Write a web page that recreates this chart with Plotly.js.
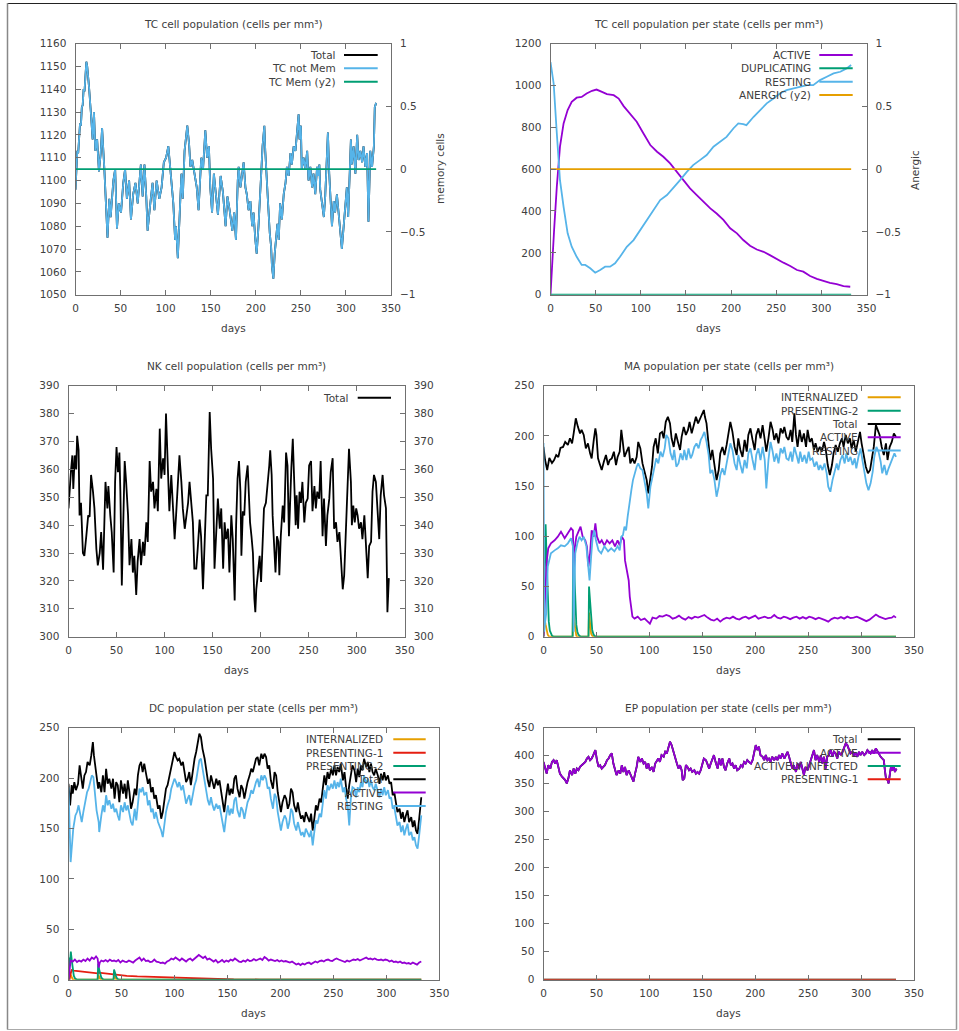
<!DOCTYPE html>
<html><head><meta charset="utf-8">
<script src="https://cdn.plot.ly/plotly-3.0.1.min.js"></script>
<style>html,body{margin:0;padding:0;background:#fff}#chart{width:959px;height:1031px}</style>
</head><body><div id="chart"></div><script>
// ---------------- DATA (day, value) ----------------
const tcNotMem = [[0,1096],[1,1105],[2,1113],[3,1112],[4,1120],[5,1125],[6,1124],[7,1132],[8,1133],[9,1140],[10,1139],[11,1148],[12,1152],[13,1150],[14,1143],[15,1141],[17,1130],[19,1118],[20.5,1130],[22,1113],[24,1118],[26,1104],[28,1112],[29.5,1123],[32,1105],[33.5,1090],[35.5,1075],[37.5,1092],[39,1084],[42,1100],[44,1105],[46,1079],[48,1090],[50.5,1086],[53,1099],[55,1105],[57,1092],[59.5,1100],[61.5,1083],[64,1094],[66.5,1099],[69,1090],[71,1102],[72.5,1107],[74.5,1093],[76.5,1107],[78.5,1093],[80,1078],[83,1090],[85.5,1099],[87.5,1087],[90,1100],[93,1092],[95.5,1097],[98,1108],[100.5,1110],[103,1115],[105,1105],[107,1097],[108.5,1090],[110.5,1074],[111.5,1080],[113.5,1066],[115.5,1089],[117.5,1103],[119,1092],[121,1113],[124,1124],[126,1116],[127.5,1106],[129.5,1109],[132,1103],[134.5,1097],[136.5,1087],[139.5,1110],[141.5,1105],[144,1122],[146,1110],[148,1115],[149.5,1097],[151.5,1086],[153.5,1103],[156,1093],[158,1085],[161,1102],[163.5,1095],[166.5,1080],[168.5,1093],[171,1087],[174,1078],[176,1086],[178,1074],[180,1100],[181,1106],[183,1097],[185,1103],[186.5,1108],[188.5,1097],[190,1094],[192,1087],[194,1091],[196,1080],[197.5,1086],[199.5,1074],[201,1068],[203,1080],[205,1093],[206,1103],[207.5,1115],[209.5,1124],[210.5,1113],[212,1100],[213.5,1091],[215.5,1077],[217,1071],[218,1062],[219.5,1057],[221,1068],[222.5,1074],[224,1081],[225.5,1074],[227,1090],[229,1083],[231,1094],[233,1099],[234.5,1106],[236.5,1102],[238.5,1112],[240,1107],[242,1115],[244,1113],[246,1121],[247.5,1129],[248.5,1118],[250,1124],[251,1105],[253,1110],[255,1105],[257,1113],[258.5,1100],[260.5,1106],[262.5,1097],[264,1103],[266,1094],[268,1106],[269,1102],[270.5,1107],[271.5,1096],[273.5,1090],[275.5,1084],[277,1093],[279,1112],[280,1121],[281.5,1103],[283,1091],[284.5,1080],[286.5,1091],[288,1086],[290,1094],[292,1084],[294,1077],[295.5,1070],[297.5,1080],[299.5,1088],[301,1097],[302.5,1084],[304,1102],[305.5,1118],[306.5,1107],[308.5,1115],[310.5,1103],[312.5,1120],[314,1109],[316,1113],[318,1108],[319.5,1115],[321.5,1106],[323.5,1112],[325,1082],[327,1113],[329,1106],[331,1115],[332,1132],[333.5,1134]];
const tcMem = [[0,0],[333.5,0]];

const tcActive = [[0,0],[1.5,134],[4,309],[7,516],[10.5,707],[14.5,818],[19,882],[23.5,921],[29,941],[34.5,945],[40,961],[46,974],[51,980],[57,969],[62.5,958],[70,953],[75.5,937],[81,901],[88,866],[95.5,826],[103,770],[110.5,715],[118,683],[125,659],[132.5,627],[140,587],[147.5,547],[154.5,508],[162,476],[169.5,444],[177,412],[184,388],[191.5,357],[199,317],[206.5,293],[213.5,261],[221,234],[228.5,216],[236,205],[243,189],[250.5,173],[258,153],[265.5,137],[273,118],[280,110],[287.5,89],[295,76],[302.5,65],[309.5,57],[317,51],[324.5,41],[332,38]];
const tcDuplicating = [[0,0],[333,0]];
const tcResting = [[0,1111],[3.5,1009],[7,770],[10.5,547],[14.5,420],[19,293],[23.5,229],[29,181],[34.5,142],[38.5,142],[44,126],[49.5,105],[55,118],[60.5,134],[66,134],[71.5,150],[77,181],[84.5,229],[92,261],[99.5,309],[106.5,357],[114,404],[121.5,452],[129,476],[136,508],[143.5,547],[151,587],[158,619],[165.5,643],[173,667],[180.5,707],[188,731],[195,754],[202.5,794],[208,818],[213.5,815],[217,810],[225,850],[232,882],[239.5,914],[247,937],[254,961],[261.5,977],[269,985],[276.5,993],[284,1001],[291,1001],[298.5,1025],[306,1041],[313.5,1057],[321,1065],[328,1081],[333,1097]];
const tcAnergic = [[0,0],[333,0]];

const nkTotal = [[0,346],[1,353],[2.5,359],[4,365],[5,353],[6.5,365],[8,360],[9,372],[10.5,367],[11.5,343.5],[13,348],[15,330],[16.5,329],[18.5,336],[20.5,343.5],[22,343],[23.5,358],[25.5,352],[27,346],[29,331.5],[30.5,325.6],[32.5,330],[34,337.5],[36,324],[37.5,345],[38.5,355.5],[40.5,346],[41.5,354],[43.5,343.5],[45,337.5],[47,323],[48.5,355.5],[50,368],[51.5,359],[53,366],[54,352],[55.5,318.4],[57.5,353],[58.5,363],[60,355.5],[62,343.5],[63.5,325.6],[65.5,335],[67,323],[68.5,329],[70.5,315],[72,327],[74,335],[75.5,325.6],[77.5,334],[79,329],[81,341],[82.5,334],[84.5,363],[86,352],[88,355.5],[89.5,346],[91.5,353],[93,345],[95,374.6],[96.5,356.7],[98.5,364],[100,358],[101.5,380],[103.5,361.4],[105,345],[107,358],[108.5,346],[110.5,335],[112,343.5],[114,358],[115.5,365],[117.5,355.5],[119,346],[121,338.7],[122.5,342],[124.5,348],[126,355.5],[128,346],[129.5,341],[131,324.4],[133,324.4],[134.5,331.5],[136.5,342],[138,336],[140,317],[141.5,331.5],[143.5,350.7],[145,350.7],[147,380.6],[148.5,367.4],[150.5,356.7],[152,324.4],[154,342],[155.5,349.5],[157.5,338.7],[159,346],[161,324.4],[162.5,341],[164,335],[166,338.7],[167.5,323],[169.5,343.5],[171,335],[173,313],[174.5,340],[176,356.7],[177.5,363],[179,352],[180,329],[181.5,345],[183,343.5],[184.5,355.5],[186.5,361.4],[188,350.7],[189,341],[190.5,336],[192,330],[193.5,313.6],[194.5,308.8],[195.5,317],[197.5,323],[199,329],[200.5,319.6],[202,331.5],[203.5,346],[205.5,348],[207,353],[209,361.4],[210,366.8],[211.5,358],[212.5,343.5],[214,334],[215.5,323],[217,336],[218.5,334],[219.5,322],[221,336],[223,347],[224.5,341],[226.5,366],[228,361.4],[229.5,336],[231,355.5],[232,360.5],[233.5,371],[235,355.5],[236.5,340],[237.5,350.7],[239,338.7],[240.5,352],[242,348],[243.5,355.5],[245.5,341],[247,348],[249,349.5],[250.5,361.4],[252.5,363],[254,345],[256,354],[257.5,346],[259,352],[261,349.5],[262.5,363],[264.5,336],[266,349.5],[268,332.5],[269.5,343.5],[271.5,349.5],[273,359],[275,364],[276.5,338.7],[278.5,341],[280,334],[282,337.5],[283.5,327],[285.5,317],[287,322],[288.5,337.5],[290.5,358],[292,367.4],[294,355.5],[295,340],[296.5,347],[298,341],[299.5,346],[301,343.5],[302.5,338.7],[304.5,341],[306,335],[308,343.5],[309.5,334],[311.5,321],[313,332.5],[315,334],[316.5,352],[318,358],[320,355.5],[321.5,345],[323.5,335],[325,350.7],[327,358],[328.5,350.7],[330.5,346],[332,308.8],[333.5,321]];

const maInternalized = [[0,0],[1,18],[2,12],[3,5],[4,2],[5,0.5],[6,0],[27.5,0],[28,38],[29,15],[30,5],[31,1],[32,0],[42.5,0],[43,24],[44,10],[45,3],[46,1],[47,0],[333,0]];
const maPresenting2 = [[0,0],[1,60],[2,112],[3,75],[4,35],[5,15],[6,6],[8,1],[10,0],[27.5,0],[28,96],[29,60],[30,28],[31,12],[32,5],[33,2],[35,0],[42.5,0],[43,50],[44,32],[45,15],[46,7],[47,3],[48,1],[50,0],[333,0]];
const maTotal = [[0,189],[1.5,176],[3.5,166],[5.5,178],[8,173],[10,176],[12,181],[14,179],[16,188],[18.5,189],[20.5,194],[23,191],[25,197.6],[27,192.6],[28.5,202.5],[30.5,217.5],[32.5,209],[34.5,202.5],[36,206],[38,201],[40,187.6],[42,192.6],[44,182.6],[45.5,177.6],[47.5,196],[49,207.5],[50,201],[51.5,177.6],[53,172.6],[55,166],[57,174.3],[59,181],[61,171],[62.5,176],[64.5,177.6],[66.5,184.3],[68.5,171],[70,179],[72,184.3],[73.5,206],[74.5,197.6],[76.5,179],[78.5,184.3],[80.5,189],[82,172.6],[84,177.6],[86,172.6],[88,179],[89.5,194],[91.5,187.6],[93.5,172.6],[95.5,162.7],[97.5,156],[99,142.8],[100.5,152.7],[102.5,169.3],[104,189],[106,197.6],[108,182.6],[110,202.5],[112,204],[113.5,197.6],[115.5,214],[117.5,219],[119.5,212.5],[121,197.6],[123,189],[125,202.5],[127,194],[129,186],[130.5,199],[132.5,209],[134.5,201],[136.5,206],[138,214],[140,202.5],[142,210.8],[144,219],[146,212.5],[147.5,215.8],[149.5,220.8],[151.5,225.8],[152.5,219],[154,212.5],[156,191],[157.5,176],[159.5,186],[161.5,172.6],[163.5,156],[165.5,166],[167,182.6],[169,189],[171,181],[173,191],[174.5,201],[176.5,214],[178.5,204],[180.5,189],[182.5,181],[184,197.6],[186,186],[188,179],[190,196],[192,184.3],[193.5,201],[195.5,207.5],[197.5,196],[199.5,186],[201,201],[203,207.5],[205,197.6],[207,210.8],[209,196],[210.5,184.3],[212.5,197.6],[214.5,214],[216.5,206],[218,196],[220,202.5],[222,192.6],[224,207.5],[226,202.5],[227.5,209],[229.5,199],[231.5,196],[233.5,206],[235,194],[237,222.5],[238.5,201],[240,189],[242,206],[244,194],[246,202.5],[248,189],[249.5,206],[251.5,194],[253.5,197.6],[255.5,186],[257,192.6],[259,184.3],[261,189],[263,184.3],[265,194],[266.5,187.6],[268.5,171],[270.5,161],[272.5,171],[274,182.6],[276,191],[278,184.3],[280,192.6],[282,197.6],[283.5,189],[285.5,201],[287.5,192.6],[289.5,197.6],[291,187.6],[293,196],[295,184.3],[297,196],[299,204],[300.5,192.6],[302.5,181],[304.5,169.3],[306.5,162.7],[308.5,166],[310,176],[312,189],[314,210.8],[316,204],[317.5,201],[319.5,189],[321.5,181],[323.5,192.6],[325,176],[327,189],[329,194],[331,202.5],[333,199]];
const maActive = [[0,0],[1,25],[2,55],[3,75],[4.5,88],[6,92],[7,93],[10.5,96],[13.5,99.6],[16.5,104.6],[20,98],[23,103],[26,108],[27.8,106],[28.5,60],[29.5,88],[31,99.6],[33,104.6],[35,109.6],[37,99.6],[39.5,96],[41,90],[42.5,70],[44,83],[45.5,106],[47.5,99.6],[49,113],[50.5,99.6],[53,93],[55,96],[57.5,91],[60,96],[62.5,93],[65,96],[67.5,90],[70,96],[72,91],[74,99.6],[76,96],[77,76],[78.5,66],[80.5,56],[81.5,40],[83,26.6],[84,20],[86,18],[89,20],[92,16.6],[95.5,18],[98.5,15],[100.5,13],[103,19],[106.5,18],[109.5,20.6],[112.5,20],[116,21.6],[119,20.6],[122,18],[125,19],[128,21],[131,18.5],[134,17],[137,19.5],[140,18],[143,20],[146,19],[149,20.5],[152,21.6],[155,19],[158,17],[161,16],[164,18],[167,15],[170,17.5],[173,19],[176,18],[179,20],[182,18],[185,17],[188,19],[191,20],[194,18],[197,19.5],[200,21],[203,18],[206,19],[209,20],[212,18.5],[215,19],[218,21.6],[221,19],[224,18],[227,20],[230,19],[233,17.5],[236,19],[239,20],[242,18],[245,19.5],[248,18],[251,20],[254,19],[257,17.5],[260,19],[263,18],[266,16.5],[269,15],[272,17.5],[275,19],[278,18],[281,19.5],[284,18],[287,20],[290,18.5],[293,19],[296,20],[299,18.5],[302,17],[305,15.5],[308,17],[311,20],[314,22],[317,20],[320,19],[323,17.5],[326,18.5],[329,19],[331,20.5],[333,19]];
const maResting = [[0,193],[0.7,5],[1.5,14],[2.5,23],[4,70],[5.5,76],[7,83],[10.5,86],[13.5,88],[16.5,91],[20,90],[23,93],[26,98],[27.8,90],[28.5,5],[29,40],[30,83],[32,93],[34,99.6],[36,96],[38,99.6],[40.5,90],[42,76],[43.5,56],[45,80],[46.5,99.6],[48,106],[49.5,96],[52,86],[54.5,83],[57.5,90],[61,85],[64,88],[67,85],[70,90],[72,86],[73.5,99.6],[75,101],[76.5,109.6],[78,106],[79.5,119.5],[81,132.8],[83,146],[84.5,156],[86,162.7],[88,169.3],[89.5,172.6],[91.5,167.7],[93.5,166],[95.5,156],[97.5,142.8],[99,127.8],[101,149.4],[103,159.4],[105,169.3],[106.5,177.6],[108.5,172.6],[110.5,184.3],[112.5,179],[114.5,187.6],[116,201],[118,197.6],[120,182.6],[122,176],[123.5,186],[125.5,169.3],[127.5,172.6],[129.5,182.6],[131.5,176],[133,186],[135,176],[137,187.6],[139,177.6],[140.5,181],[142.5,189],[144.5,192.6],[146.5,187.6],[148.5,196],[150,199],[152,204],[154,194],[156,181],[157.5,162.7],[159.5,166],[161.5,156],[163.5,139.4],[165.5,149.4],[167,161],[169,167.7],[171,161],[173,172.6],[174.5,181],[176.5,192.6],[178.5,186],[180.5,172.6],[182.5,166],[184,181],[186,171],[188,162.7],[190,176],[192,167.7],[193.5,182.6],[195.5,187.6],[197.5,176],[199.5,166],[201,181],[203,187.6],[205,176],[207,189],[209,176],[210.5,147.7],[212.5,176],[214.5,194],[216.5,184.3],[218,174.3],[220,182.6],[222,172.6],[224,187.6],[226,182.6],[227.5,189],[229.5,177.6],[231.5,176],[233.5,184.3],[235,174.3],[237,189],[239,181],[241,172.6],[242.5,184.3],[244.5,174.3],[246.5,181],[248.5,172.6],[250.5,184.3],[252,176],[254,177.6],[256,169.3],[258,174.3],[260,166],[261.5,171],[263.5,166],[265.5,172.6],[267.5,162.7],[269,149.4],[271,144.4],[273,156],[275,166],[277,172.6],[278.5,166],[280.5,176],[282.5,181],[284.5,172.6],[286,182.6],[288,174.3],[290,179],[292,171],[294,177.6],[295.5,167.7],[297.5,179],[299.5,187.6],[301.5,174.3],[303,164.3],[305,152.7],[307,146],[309,152.7],[311,164.3],[312.5,179],[314.5,189],[316.5,184.3],[318.5,174.3],[320,162.7],[322,171],[324,161],[326,167.7],[328,172.6],[329.5,176],[331.5,182.6],[333,179]];

const dcInternalized = [[0,0],[1,8],[2,5],[3,2],[4,0.5],[5,0],[27.5,0],[28,5],[29,2],[30,0.5],[31,0],[42.5,0],[43,4],[44,1.5],[45,0.5],[46,0],[333,0]];
const dcPresenting1 = [[0,0],[1,0],[2,6],[3,9.5],[5,9],[10,8.5],[15,8],[20,7.5],[25,6.8],[27.5,6.3],[28.5,7],[32,6.5],[38,5.8],[42.5,5.2],[43.5,5.5],[48,4.6],[55,3.8],[65,3.2],[77,2.8],[88,2.2],[99,1.8],[110,1.4],[124,1],[140,0.6],[156,0.3],[180,0.15],[210,0.05],[250,0],[333,0]];
const dcPresenting2 = [[0,0],[0.5,22],[1.2,14],[2.2,28],[3,20],[4,10],[5,4],[6,1.5],[8,0],[27.5,0],[28,16],[29,10],[30,5],[31,2],[33,0],[42.5,0],[43,10],[44,6],[45,3],[46,1],[48,0],[333,0]];
const dcTotal = [[0,194.4],[1.5,173],[3,193],[4,184.5],[5.5,196],[7,188],[9,194.4],[10.5,212.6],[12,201],[13.5,189.5],[15,202.7],[16.5,206],[18,216],[20,212.6],[21.5,222.5],[23,235.8],[24,222.5],[25.5,209.3],[26.5,197.8],[28,189.5],[29,196],[31,186],[32.5,202.7],[34,186],[35.5,209.3],[37,194.4],[38.5,199.4],[40.5,189.5],[42,199.4],[43.5,179.6],[45,196],[46.5,193],[48,176],[49.5,197.8],[51.5,184.5],[53,194.4],[54.5,179.6],[56,197.8],[57.5,186],[59,169.6],[60.5,176],[62.5,189.5],[64,183],[65.5,202.7],[67,212.6],[68.5,216],[70,206],[71.5,214.3],[73.5,202.7],[75,194.4],[76.5,199.4],[78,186],[79.5,191],[81,179.6],[82.5,183],[84.5,169.6],[86,173],[87.5,159.7],[89,166.3],[90.5,176],[92,189.5],[93.5,193],[95.5,202.7],[97,212.6],[98.5,219.2],[100,225.9],[101.5,220.9],[103,217.6],[104.5,219.2],[106.5,212.6],[108,216],[109.5,206],[111,196],[112.5,199.4],[114,206],[115.5,193],[117.5,209.3],[119,219.2],[120.5,225.9],[122,235.8],[123.5,244],[125,240.7],[126.5,229],[128.5,219.2],[130,206],[131.5,197.8],[133,191],[134.5,202.7],[136,196],[137.5,189.5],[139.5,199.4],[141,193],[142.5,197.8],[144,186],[145.5,176],[147,166.3],[148.5,179.6],[150.5,194.4],[152,183],[153.5,189.5],[155,184.5],[156.5,199.4],[158,202.7],[159.5,189.5],[161.5,181],[163,193],[164.5,189.5],[166,179.6],[167.5,188],[169,196],[171,202.7],[172.5,209.3],[174,206],[175.5,212.6],[177,219.2],[178.5,220.9],[180,212.6],[182,224.2],[183.5,219.2],[185,224.2],[186.5,220.9],[188,209.3],[189.5,212.6],[191,197.8],[193,189.5],[194.5,206],[196,202.7],[197.5,186],[199,174.6],[200.5,166.3],[202,176],[204,183],[205.5,179.6],[207,169.6],[208.5,174.6],[210,189.5],[211.5,186],[213,173],[215,166.3],[216.5,176],[218,166.3],[219.5,159.7],[221,163],[222.5,156.4],[224,166.3],[226,159.7],[227.5,156.4],[229,164.7],[230.5,148],[232,159.7],[233.5,173],[235,168],[237,179.6],[238.5,176],[240,189.5],[241.5,202.7],[243,193],[244.5,206],[246,199.4],[248,209.3],[249.5,202.7],[251,212.6],[252.5,202.7],[254,211],[255.5,206],[257,214.3],[259,197.8],[260.5,206],[262,191],[263.5,179.6],[265,193],[266.5,202.7],[268,212.6],[270,207.6],[271.5,196],[273,209.3],[274.5,201],[276,212.6],[277.5,207.6],[279,219.2],[281,211],[282.5,216],[284,206],[285.5,214.3],[287,206],[288.5,202.7],[290,209.3],[292,202.7],[293.5,194.4],[295,204.4],[296.5,197.8],[298,206],[299.5,197.8],[301.5,202.7],[303,194.4],[304.5,196],[306,183],[307.5,186],[309,176],[310.5,166.3],[312.5,169.6],[314,159.7],[315.5,166.3],[317,156.4],[318.5,163],[320,168],[321.5,156.4],[323.5,161.3],[325,151.5],[326.5,158],[328,148],[329.5,144.8],[331,159.7],[333,181]];
const dcActive = [[0,0],[1,12],[2,19],[4,18],[6,20],[8,17.5],[10,19],[12,18],[14,20],[16,18.5],[18,21],[20,19],[22,22],[24,20.5],[26,23],[27.5,21],[28.5,12],[29.5,17],[31,19],[33,18],[35,19.5],[37,18],[39,20],[41,18.5],[43,19],[45,18],[47,19.5],[49,17],[51,19],[53,18],[55,17.5],[57,19],[59,18],[61,17],[63,19],[65,20.5],[67,22],[69,19],[71,21],[73,18.5],[75,19],[77,17.5],[79,18],[81,20],[83,18],[85,17.5],[87,16.5],[89,17],[91,16],[93,18],[95,19],[97,21],[99,20],[101,22],[103,20.5],[105,19],[107,21],[109,19.5],[111,18],[113,20],[115,21],[117,19],[119,21],[121,22],[123,24.5],[125,23],[127,21.5],[129,23],[131,20],[133,21],[135,19],[137,18],[139,19.5],[141,17],[143,18],[145,19.5],[147,17.5],[149,19],[151,18],[153,20],[155,19],[157,21],[159,19.5],[161,18],[163,17.5],[165,19],[167,18],[169,20],[171,18.5],[173,19],[175,20.5],[177,19],[179,20],[181,21],[183,19.5],[185,22.5],[187,21],[189,19],[191,20],[193,19],[195,18.5],[197,19.5],[199,18],[201,19],[203,18],[205,18.5],[207,17.5],[209,17],[211,18],[213,16.5],[215,15],[217,16],[219,14.5],[221,16],[223,15],[225,16.5],[227,17],[229,15.5],[231,16.5],[233,18],[235,17],[237,18.5],[239,19],[241,18],[243,19.5],[245,20],[247,19],[249,18.5],[251,20],[253,21],[255,20],[257,19],[259,18.5],[261,17.5],[263,19],[265,18],[267,19],[269,20],[271,19.5],[273,20.5],[275,19],[277,20],[279,21.5],[281,22],[283,20.5],[285,21],[287,20],[289,21],[291,20],[293,19.5],[295,20],[297,19],[299,20],[301,19.5],[303,18],[305,19],[307,17.5],[309,18],[311,17],[313,18],[315,16.5],[317,17],[319,16],[321,16.5],[323,15.5],[325,17],[327,16],[329,15],[331,17],[333,18]];
const dcResting = [[0,191],[1,156],[2,116.7],[3.5,136.6],[4.5,149.8],[6.5,163],[8,166.3],[9.5,173],[11,166.3],[12.5,156.4],[14,166.3],[15.5,176],[17.5,186],[19,189.5],[20.5,196],[22,202.7],[23.5,201],[25,179.6],[26.5,168],[28.5,156.4],[29,146.5],[31,163],[32.5,173],[34,166.3],[35.5,183],[37,173],[38.5,178],[40.5,169.6],[42,174.6],[43.5,166.3],[45,169.6],[46.5,163],[48,158],[49.5,173],[51.5,166.3],[53,176],[54.5,168],[56,173],[57.5,166.3],[59,156.4],[60.5,153],[62.5,169.6],[64,158],[65.5,176],[67,189.5],[68.5,186],[70,191],[71.5,183],[73.5,186],[75,173],[76.5,178],[78,166.3],[79.5,169.6],[81,159.7],[82.5,166.3],[84.5,156.4],[86,153],[87.5,148],[89,141.5],[90.5,156.4],[92,166.3],[93.5,173],[95.5,179.6],[97,189.5],[98.5,194.4],[100,199.4],[101.5,196],[103,191],[104.5,196],[106.5,188],[108,193],[109.5,183],[111,174.6],[112.5,179.6],[114,183],[115.5,173],[117.5,186],[119,193],[120.5,197.8],[122,206],[123.5,217.6],[125,219.2],[126.5,209.3],[128.5,199.4],[130,186],[131.5,178],[133,173],[134.5,181],[136,173],[137.5,168],[139.5,174.6],[141,169.6],[142.5,173],[144,164.7],[145.5,156.4],[147,146.5],[148.5,159.7],[150.5,173],[152,163],[153.5,169.6],[155,164.7],[156.5,178],[158,181],[159.5,168],[161.5,161.3],[163,171.3],[164.5,168],[166,159.7],[167.5,168],[169,176],[171,181],[172.5,188],[174,184.5],[175.5,191],[177,196],[178.5,199.4],[180,191],[182,202.7],[183.5,197.8],[185,202.7],[186.5,199.4],[188,189.5],[189.5,191],[191,179.6],[193,169.6],[194.5,184.5],[196,181],[197.5,166.3],[199,156.4],[200.5,148],[202,156.4],[204,163],[205.5,159.7],[207,149.8],[208.5,156.4],[210,169.6],[211.5,166.3],[213,154.8],[215,148],[216.5,156.4],[218,149.8],[219.5,143.2],[221,146.5],[222.5,141.5],[224,149.8],[226,144.8],[227.5,141.5],[229,148],[230.5,133.3],[232,146.5],[233.5,158],[235,154.8],[237,164.7],[238.5,161.3],[240,174.6],[241.5,188],[243,179.6],[244.5,193],[246,188],[248,194.4],[249.5,189.5],[251,197.8],[252.5,189.5],[254,196],[255.5,191],[257,199.4],[259,186],[260.5,191],[262,179.6],[263.5,173],[265,153],[266.5,179.6],[268,191],[270,189.5],[271.5,181],[273,191],[274.5,186],[276,196],[277.5,191],[279,202.7],[281,194.4],[282.5,199.4],[284,191],[285.5,197.8],[287,191],[288.5,188],[290,194.4],[292,188],[293.5,181],[295,189.5],[296.5,183],[298,191],[299.5,183],[301.5,188],[303,179.6],[304.5,181],[306,169.6],[307.5,171.3],[309,161.3],[310.5,153],[312.5,156.4],[314,146.5],[315.5,153],[317,143.2],[318.5,149.8],[320,154.8],[321.5,143.2],[323.5,146.5],[325,138.2],[326.5,141.5],[328,133.3],[329.5,130],[331,143.2],[333,163]];

const epActive = [[0,389],[1.5,377],[3,368],[4.5,383],[6.5,377],[8,389],[9.5,392],[11,386],[12.5,392],[14,380],[15.5,368],[17.5,362.5],[19,359.5],[20.5,356.5],[22,350.6],[23.5,359.5],[25,374],[27,365.5],[28.5,377],[30,368],[31.5,377],[33,374],[34.5,380],[36,383],[38,386],[39.5,389],[41,395],[42.5,398],[44,392],[45.5,395],[47,401],[49,410],[50.5,392],[52,380],[53.5,383],[55,377],[56.5,380],[58,383],[60,392],[61.5,395],[63,401],[64.5,404],[66,386],[67.5,374],[69,365.5],[71,374],[72.5,368],[74,383],[75.5,371],[77,380],[78.5,365.5],[80.5,374],[82,368],[83.5,359.5],[85,353.6],[86.5,368],[88,380],[89.5,398],[91.5,389],[93,395],[94.5,386],[96,389],[97.5,377],[99,386],[100.5,374],[102.5,380],[104,371],[105.5,386],[107,392],[108.5,395],[110,389],[111.5,401],[113.5,398],[115,407],[116.5,404],[118,416],[119.5,425],[121,419],[123,404],[124.5,398],[126,386],[127.5,377],[129,383],[130.5,374],[131.5,356.5],[133,359.5],[134.5,383],[136,380],[137.5,374],[139,377],[140.5,371],[142.5,374],[144,368],[145.5,371],[147,368],[148.5,374],[150,386],[151.5,395],[153.5,392],[155,386],[156.5,377],[158,386],[159.5,392],[161,401],[162.5,389],[164.5,377],[166,395],[167.5,383],[169,395],[170.5,380],[172,374],[173.5,386],[175.5,395],[177,383],[178.5,386],[180,377],[181.5,383],[183,374],[185,377],[186.5,383],[188,380],[189.5,389],[191,386],[192.5,392],[194,389],[196,386],[197.5,392],[199,407],[200.5,419],[202,410],[203.5,416],[205,401],[207,398],[208.5,392],[210,401],[211.5,392],[213,395],[214.5,389],[216,398],[218,392],[219.5,398],[221,392],[222.5,401],[224,395],[225.5,404],[227.5,395],[229,401],[230.5,407],[232,398],[233.5,386],[235,377],[236.5,383],[238.5,371],[240,386],[241.5,377],[243,389],[244.5,374],[246,365.5],[247.5,380],[249.5,374],[251,383],[252.5,392],[254,404],[255.5,410],[257,392],[258.5,401],[260.5,389],[262,401],[263.5,386],[265,398],[266.5,377],[268,398],[269.5,401],[271.5,410],[273,398],[274.5,407],[276,404],[277.5,395],[279,407],[281,401],[282.5,407],[284,416],[285.5,422],[287,419],[288.5,410],[290,404],[292,407],[293.5,401],[295,404],[296.5,398],[298,407],[299.5,401],[301,407],[303,401],[304.5,404],[306,410],[307.5,407],[309,404],[310.5,410],[312,404],[314,413],[315.5,407],[317,404],[318.5,398],[320,395],[321.5,392],[322.5,374],[323.5,359.5],[325,356.5],[326,350.6],[327.5,371],[328.5,383],[329.5,374],[331,380],[332,371],[333.5,377]];
const epInfected = [[0,0],[333,0]];
const epPresenting1 = [[0,0],[333,0]];

// ---------------- TEXT ----------------
const panelTitles = ['TC cell population (cells per mm³)','TC cell population per state (cells per mm³)','NK cell population (cells per mm³)','MA population per state (cells per mm³)','DC population per state (cells per mm³)','EP population per state (cells per mm³)'];
const xTitle = 'days';
const y2Titles = ['memory cells','Anergic'];

// ---------------- STYLE / LAYOUT ----------------
const W = 959, H = 1031;
const px = v => v / W, py = v => 1 - v / H;
const F = 'DejaVu Sans, Verdana, sans-serif';
const TXT = '#404040', AX = '#707070';
const COL = {black:'#000000', purple:'#9400d3', green:'#009e73', blue:'#56b4e9', orange:'#e69f00', red:'#e51e10'};

const PANELS = [
  {l:75.5, r:391, t:43.5, b:294.7, yr:[1050,1160], dy:10, y2:{range:[-1,1], dtick:0.5}, leg:{tr:337.7, s0:344, s1:377.7, y0:55}},
  {l:550.5, r:866.5, t:43.5, b:294.7, yr:[0,1200], dy:200, y2:{range:[-1,1], dtick:0.5}, leg:{tr:812.7, s0:819.3, s1:852.7, y0:55}},
  {l:68.5, r:404.7, t:385.7, b:636.7, yr:[300,390], dy:10, y2:{range:[300,390], dtick:10}, leg:{tr:351, s0:357.7, s1:391, y0:397.7}},
  {l:543.5, r:914, t:385.7, b:636.7, yr:[0,250], dy:50, leg:{tr:860, s0:867.7, s1:900.7, y0:397.3}},
  {l:68.5, r:439.3, t:727.7, b:979.7, yr:[0,250], dy:50, leg:{tr:385, s0:393.3, s1:425.7, y0:739.3}},
  {l:543.5, r:914, t:727.7, b:979.7, yr:[0,450], dy:50, leg:{tr:860, s0:867.7, s1:900.7, y0:739.3}}
];
const AXIDS = [['x','y','y2'],['x2','y3','y4'],['x3','y5','y6'],['x4','y7',null],['x5','y8',null],['x6','y9',null]];

const SERIES = [
  [{n:'Total', d:tcNotMem, c:COL.black}, {n:'TC not Mem', d:tcNotMem, c:COL.blue}, {n:'TC Mem (y2)', d:tcMem, c:COL.green, y2:true}],
  [{n:'ACTIVE', d:tcActive, c:COL.purple}, {n:'DUPLICATING', d:tcDuplicating, c:COL.green}, {n:'RESTING', d:tcResting, c:COL.blue}, {n:'ANERGIC (y2)', d:tcAnergic, c:COL.orange, y2:true}],
  [{n:'Total', d:nkTotal, c:COL.black}],
  [{n:'INTERNALIZED', d:maInternalized, c:COL.orange}, {n:'PRESENTING-2', d:maPresenting2, c:COL.green}, {n:'Total', d:maTotal, c:COL.black}, {n:'ACTIVE', d:maActive, c:COL.purple}, {n:'RESTING', d:maResting, c:COL.blue}],
  [{n:'INTERNALIZED', d:dcInternalized, c:COL.orange}, {n:'PRESENTING-1', d:dcPresenting1, c:COL.red}, {n:'PRESENTING-2', d:dcPresenting2, c:COL.green}, {n:'Total', d:dcTotal, c:COL.black}, {n:'ACTIVE', d:dcActive, c:COL.purple}, {n:'RESTING', d:dcResting, c:COL.blue}],
  [{n:'Total', d:epActive, c:COL.black}, {n:'ACTIVE', d:epActive, c:COL.purple}, {n:'ACTIVELY INFECTED', d:epInfected, c:COL.green}, {n:'PRESENTING-1', d:epPresenting1, c:COL.red}]
];

const font = {family:F, size:10.5, color:TXT};
const axBase = {showline:true, linecolor:AX, linewidth:1, ticks:'inside', ticklen:5, tickwidth:1, tickcolor:AX,
  showgrid:false, zeroline:false, tickfont:font, fixedrange:true};

const layout = {width:W, height:H, margin:{l:0,r:0,t:0,b:0}, paper_bgcolor:'#fff', plot_bgcolor:'rgba(0,0,0,0)',
  showlegend:false, font:font, annotations:[], shapes:[]};
const data = [];
const ROW = 13.33;

PANELS.forEach((P, i) => {
  const [xa, ya, ya2] = AXIDS[i];
  const xk = 'xaxis' + xa.slice(1), yk = 'yaxis' + ya.slice(1);
  layout[xk] = Object.assign({}, axBase, {domain:[px(P.l), px(P.r)], range:[0,350], tick0:0, dtick:50, mirror:'ticks', anchor:ya, ticklabelstandoff:4});
  layout[yk] = Object.assign({}, axBase, {domain:[py(P.b), py(P.t)], range:P.yr, tick0:0, dtick:P.dy, mirror:true, anchor:xa, ticklabelstandoff:6});
  if (ya2) {
    layout['yaxis' + ya2.slice(1)] = Object.assign({}, axBase, {overlaying:ya, side:'right', anchor:xa, showline:false,
      range:P.y2.range, tick0:0, dtick:P.y2.dtick, ticklabelstandoff:8});
  }
  SERIES[i].forEach((s, k) => {
    data.push({type:'scatter', mode:'lines', name:s.n, x:s.d.map(p => p[0]), y:s.d.map(p => p[1]),
      xaxis:xa, yaxis:(s.y2 ? ya2 : ya), line:{color:s.c, width:1.8}, hoverinfo:'skip'});
    const yy = P.leg.y0 + k * ROW;
    layout.annotations.push({xref:'paper', yref:'paper', x:px(P.leg.tr), y:py(yy), xanchor:'right', yanchor:'middle',
      text:s.n, showarrow:false, font:font});
    layout.shapes.push({type:'line', xref:'paper', yref:'paper', x0:px(P.leg.s0), x1:px(P.leg.s1), y0:py(yy), y1:py(yy),
      line:{color:s.c, width:2}});
  });
  if (ya2 && !SERIES[i].some(s => s.y2)) {
    data.push({type:'scatter', mode:'lines', x:[null], y:[null], xaxis:xa, yaxis:ya2, hoverinfo:'skip'});
  }
  const cx = (P.l + P.r) / 2;
  layout.annotations.push({xref:'paper', yref:'paper', x:px(cx), y:py(P.t - 19.5), xanchor:'center', yanchor:'middle',
    text:panelTitles[i], showarrow:false, font:font});
  layout.annotations.push({xref:'paper', yref:'paper', x:px(cx), y:py(P.b + 33.5), xanchor:'center', yanchor:'middle',
    text:xTitle, showarrow:false, font:font});
});
layout.annotations.push({xref:'paper', yref:'paper', x:px(440), y:py(169), xanchor:'center', yanchor:'middle', textangle:-90,
  text:y2Titles[0], showarrow:false, font:font});
layout.annotations.push({xref:'paper', yref:'paper', x:px(915), y:py(170), xanchor:'center', yanchor:'middle', textangle:-90,
  text:y2Titles[1], showarrow:false, font:font});
// page frame
layout.shapes.push({type:'line', xref:'paper', yref:'paper', x0:px(7), x1:px(957), y0:py(3.5), y1:py(3.5), line:{color:'#222', width:1}});
layout.shapes.push({type:'line', xref:'paper', yref:'paper', x0:px(7.5), x1:px(7.5), y0:py(3), y1:py(1029.5), line:{color:'#888', width:1.5}});
layout.shapes.push({type:'line', xref:'paper', yref:'paper', x0:px(956.5), x1:px(956.5), y0:py(3), y1:py(1029.5), line:{color:'#999', width:1.5}});
layout.shapes.push({type:'line', xref:'paper', yref:'paper', x0:px(7), x1:px(957), y0:py(1029.5), y1:py(1029.5), line:{color:'#aaa', width:1}});

Plotly.newPlot('chart', data, layout, {staticPlot:true, displayModeBar:false});
</script></body></html>
